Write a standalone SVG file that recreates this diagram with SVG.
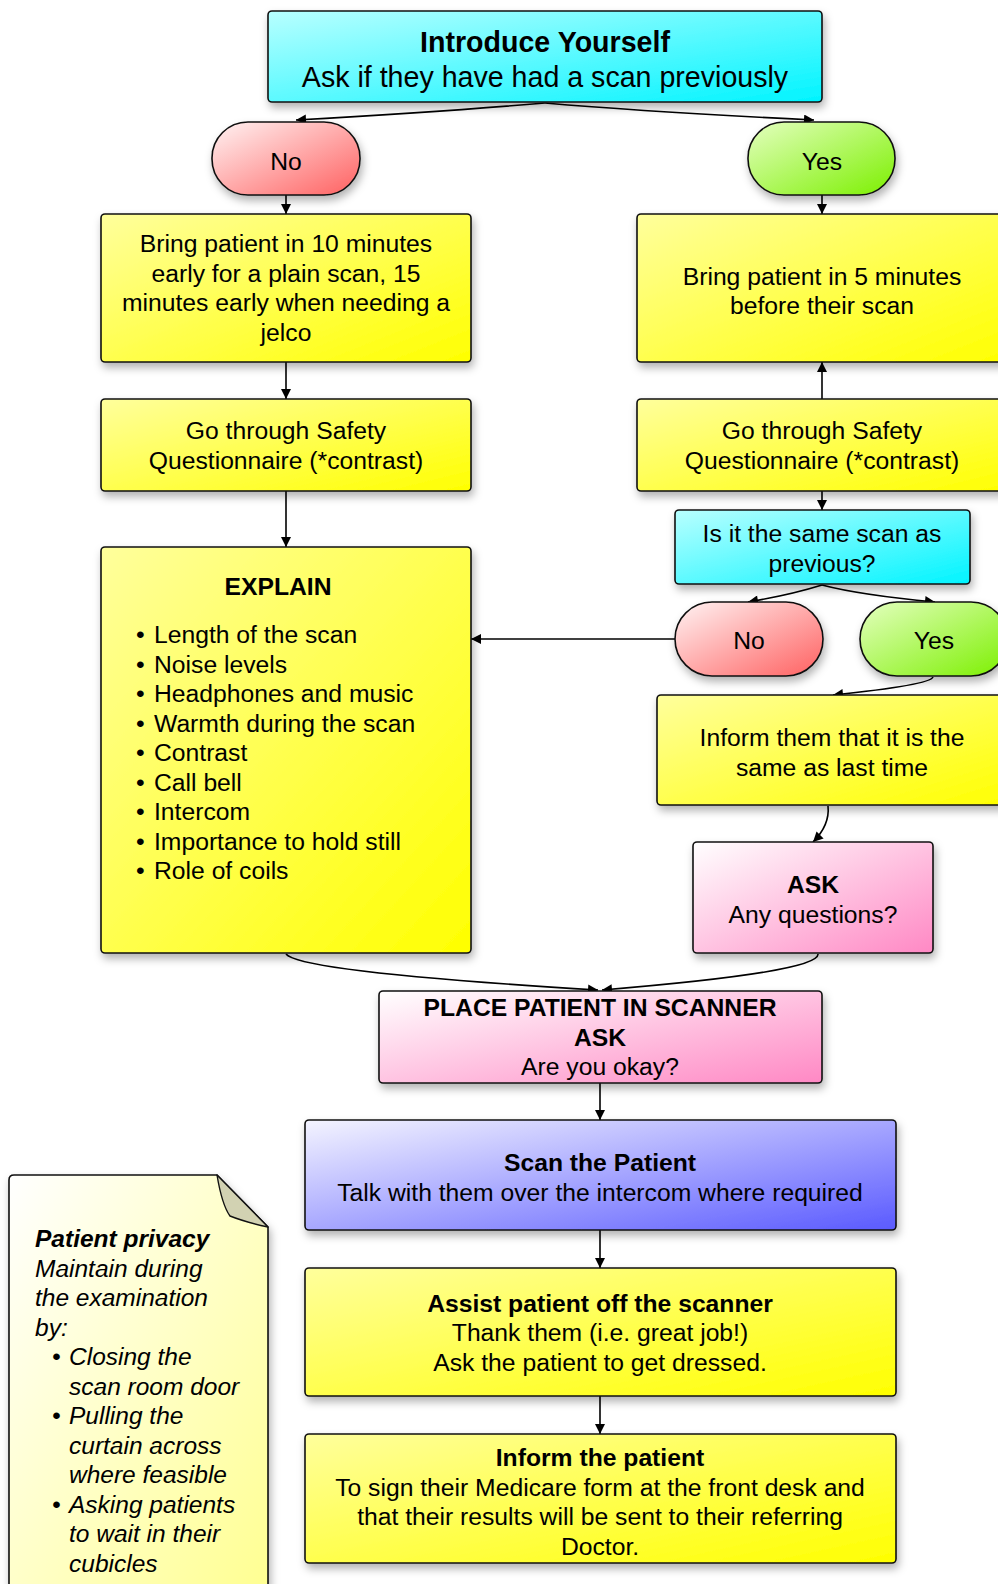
<svg xmlns="http://www.w3.org/2000/svg" width="998" height="1584" viewBox="0 0 998 1584">
<defs>
<linearGradient id="gCyan" x1="0" y1="0" x2="1" y2="1"><stop offset="0" stop-color="#b8ffff"/><stop offset="1" stop-color="#00f4ff"/></linearGradient>
<linearGradient id="gYellow" x1="0" y1="0" x2="1" y2="1"><stop offset="0" stop-color="#ffff9c"/><stop offset="1" stop-color="#ffff00"/></linearGradient>
<linearGradient id="gRed" x1="0" y1="0" x2="1" y2="1"><stop offset="0" stop-color="#fff4f4"/><stop offset="1" stop-color="#ff6060"/></linearGradient>
<linearGradient id="gGreen" x1="0" y1="0" x2="1" y2="1"><stop offset="0" stop-color="#e4ffc0"/><stop offset="1" stop-color="#7cf000"/></linearGradient>
<linearGradient id="gPink" x1="0" y1="0" x2="1" y2="1"><stop offset="0" stop-color="#ffffff"/><stop offset="1" stop-color="#ff88c4"/></linearGradient>
<linearGradient id="gBlue" x1="0" y1="0" x2="1" y2="1"><stop offset="0" stop-color="#f4f4ff"/><stop offset="1" stop-color="#5a5aff"/></linearGradient>
<linearGradient id="gNote" x1="0" y1="0" x2="1" y2="1"><stop offset="0" stop-color="#ffffff"/><stop offset="1" stop-color="#ffff90"/></linearGradient>
<filter id="sh" x="-10%" y="-10%" width="120%" height="130%"><feDropShadow dx="2" dy="5" stdDeviation="4" flood-color="#000" flood-opacity="0.3"/></filter>
<marker id="ar" viewBox="0 0 10 10" refX="10" refY="5" markerWidth="13" markerHeight="10" markerUnits="userSpaceOnUse" orient="auto"><path d="M0,0 L10,5 L0,10 z" fill="#000"/></marker>
</defs>
<style>
.box{stroke:#111;stroke-width:1.6}
.t{font-family:"Liberation Sans",Arial,sans-serif;font-size:24.7px;fill:#000;text-anchor:middle}
.b{font-weight:bold}
.l{font-family:"Liberation Sans",Arial,sans-serif;font-size:24.7px;fill:#000}
.n{font-family:"Liberation Sans",Arial,sans-serif;font-size:24.5px;fill:#000;font-style:italic}
.c{fill:none;stroke:#000;stroke-width:1.6;marker-end:url(#ar)}
</style>

<g id="connectors">
<path class="c" d="M545,103 Q440,112 296,120"/>
<path class="c" d="M545,103 Q650,112 814,120"/>
<path class="c" d="M286,195 L286,214"/>
<path class="c" d="M822,195 L822,214"/>
<path class="c" d="M286,362 L286,399"/>
<path class="c" d="M822,399 L822,362"/>
<path class="c" d="M286,491 L286,547"/>
<path class="c" d="M822,491 L822,510"/>
<path class="c" d="M822,585 Q790,595 748,602"/>
<path class="c" d="M822,585 Q860,595 935,602"/>
<path class="c" d="M675,639 L471,639"/>
<path class="c" d="M933,677 Q930,685 833,695"/>
<path class="c" d="M828,806 Q830,825 813,842"/>
<path class="c" d="M286,954 Q300,972 598,990"/>
<path class="c" d="M818,954 Q820,972 602,990"/>
<path class="c" d="M600,1083 L600,1120"/>
<path class="c" d="M600,1230 L600,1268"/>
<path class="c" d="M600,1396 L600,1434"/>
</g>

<g id="n-intro">
<rect class="box" x="268" y="11" width="554" height="91" rx="4" fill="url(#gCyan)" filter="url(#sh)"/>
<text class="t b" x="545" y="52" style="font-size:28.6px">Introduce Yourself</text>
<text class="t" x="545" y="87" style="font-size:28.6px">Ask if they have had a scan previously</text>
</g>

<g id="n-no1">
<rect class="box" x="212" y="122" width="148" height="73" rx="36" fill="url(#gRed)" filter="url(#sh)"/>
<text class="t" x="286" y="170">No</text>
</g>
<g id="n-yes1">
<rect class="box" x="748" y="122" width="147" height="73" rx="36" fill="url(#gGreen)" filter="url(#sh)"/>
<text class="t" x="822" y="170">Yes</text>
</g>

<g id="n-bring10">
<rect class="box" x="101" y="214" width="370" height="148" rx="4" fill="url(#gYellow)" filter="url(#sh)"/>
<text class="t" x="286" y="252">Bring patient in 10 minutes</text>
<text class="t" x="286" y="282">early for a plain scan, 15</text>
<text class="t" x="286" y="311">minutes early when needing a</text>
<text class="t" x="286" y="341">jelco</text>
</g>
<g id="n-bring5">
<rect class="box" x="637" y="214" width="370" height="148" rx="4" fill="url(#gYellow)" filter="url(#sh)"/>
<text class="t" x="822" y="285">Bring patient in 5 minutes</text>
<text class="t" x="822" y="314">before their scan</text>
</g>

<g id="n-safety1">
<rect class="box" x="101" y="399" width="370" height="92" rx="4" fill="url(#gYellow)" filter="url(#sh)"/>
<text class="t" x="286" y="439">Go through Safety</text>
<text class="t" x="286" y="469">Questionnaire (*contrast)</text>
</g>
<g id="n-safety2">
<rect class="box" x="637" y="399" width="370" height="92" rx="4" fill="url(#gYellow)" filter="url(#sh)"/>
<text class="t" x="822" y="439">Go through Safety</text>
<text class="t" x="822" y="469">Questionnaire (*contrast)</text>
</g>

<g id="n-same">
<rect class="box" x="675" y="510" width="295" height="74" rx="4" fill="url(#gCyan)" filter="url(#sh)"/>
<text class="t" x="822" y="542">Is it the same scan as</text>
<text class="t" x="822" y="572">previous?</text>
</g>

<g id="n-no2">
<rect class="box" x="675" y="602" width="148" height="74" rx="37" fill="url(#gRed)" filter="url(#sh)"/>
<text class="t" x="749" y="649">No</text>
</g>
<g id="n-yes2">
<rect class="box" x="860" y="602" width="148" height="74" rx="37" fill="url(#gGreen)" filter="url(#sh)"/>
<text class="t" x="934" y="649">Yes</text>
</g>

<g id="n-explain">
<rect class="box" x="101" y="547" width="370" height="406" rx="4" fill="url(#gYellow)" filter="url(#sh)"/>
<text class="t b" x="278" y="595">EXPLAIN</text>
<g class="l">
<text x="136" y="643">•</text><text x="154" y="643">Length of the scan</text>
<text x="136" y="673">•</text><text x="154" y="673">Noise levels</text>
<text x="136" y="702">•</text><text x="154" y="702">Headphones and music</text>
<text x="136" y="732">•</text><text x="154" y="732">Warmth during the scan</text>
<text x="136" y="761">•</text><text x="154" y="761">Contrast</text>
<text x="136" y="791">•</text><text x="154" y="791">Call bell</text>
<text x="136" y="820">•</text><text x="154" y="820">Intercom</text>
<text x="136" y="850">•</text><text x="154" y="850">Importance to hold still</text>
<text x="136" y="879">•</text><text x="154" y="879">Role of coils</text>
</g>
</g>

<g id="n-inform-same">
<rect class="box" x="657" y="695" width="350" height="110" rx="4" fill="url(#gYellow)" filter="url(#sh)"/>
<text class="t" x="832" y="746">Inform them that it is the</text>
<text class="t" x="832" y="776">same as last time</text>
</g>

<g id="n-ask">
<rect class="box" x="693" y="842" width="240" height="111" rx="4" fill="url(#gPink)" filter="url(#sh)"/>
<text class="t b" x="813" y="893">ASK</text>
<text class="t" x="813" y="923">Any questions?</text>
</g>

<g id="n-place">
<rect class="box" x="379" y="991" width="443" height="92" rx="4" fill="url(#gPink)" filter="url(#sh)"/>
<text class="t b" x="600" y="1016">PLACE PATIENT IN SCANNER</text>
<text class="t b" x="600" y="1046">ASK</text>
<text class="t" x="600" y="1075">Are you okay?</text>
</g>

<g id="n-scan">
<rect class="box" x="305" y="1120" width="591" height="110" rx="4" fill="url(#gBlue)" filter="url(#sh)"/>
<text class="t b" x="600" y="1171">Scan the Patient</text>
<text class="t" x="600" y="1201">Talk with them over the intercom where required</text>
</g>

<g id="n-assist">
<rect class="box" x="305" y="1268" width="591" height="128" rx="4" fill="url(#gYellow)" filter="url(#sh)"/>
<text class="t b" x="600" y="1312">Assist patient off the scanner</text>
<text class="t" x="600" y="1341">Thank them (i.e. great job!)</text>
<text class="t" x="600" y="1371">Ask the patient to get dressed.</text>
</g>

<g id="n-inform-patient">
<rect class="box" x="305" y="1434" width="591" height="129" rx="4" fill="url(#gYellow)" filter="url(#sh)"/>
<text class="t b" x="600" y="1466">Inform the patient</text>
<text class="t" x="600" y="1496">To sign their Medicare form at the front desk and</text>
<text class="t" x="600" y="1525">that their results will be sent to their referring</text>
<text class="t" x="600" y="1555">Doctor.</text>
</g>

<g id="n-note">
<path class="box" d="M9,1600 L9,1180 Q9,1175 14,1175 L217,1175 L268,1227 L268,1600 Z" fill="url(#gNote)" filter="url(#sh)"/>
<path d="M217,1175 Q222,1205 230,1216 Q245,1222 268,1227 Z" fill="#d2d2b2" stroke="#111" stroke-width="1.4" stroke-linejoin="round"/>
<g class="n">
<text class="b" x="35" y="1247">Patient privacy</text>
<text x="35" y="1277">Maintain during</text>
<text x="35" y="1306">the examination</text>
<text x="35" y="1336">by:</text>
<text x="52" y="1365">•</text><text x="69" y="1365">Closing the</text>
<text x="69" y="1395">scan room door</text>
<text x="52" y="1424">•</text><text x="69" y="1424">Pulling the</text>
<text x="69" y="1454">curtain across</text>
<text x="69" y="1483">where feasible</text>
<text x="52" y="1513">•</text><text x="69" y="1513">Asking patients</text>
<text x="69" y="1542">to wait in their</text>
<text x="69" y="1572">cubicles</text>
</g>
</g>
</svg>
